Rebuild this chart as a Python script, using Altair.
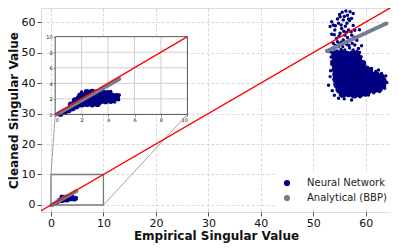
import altair as alt
import pandas as pd

# ---------------- values ----------------
X_TICKS = [0, 10, 20, 30, 40, 50, 60]
Y_TICKS = [0, 10, 20, 30, 40, 50, 60]
X_DOMAIN = [-1.9, 64.8]
Y_DOMAIN = [-2.3, 64.6]
INSET_TICKS = [0, 2, 4, 6, 8, 10]
INSET_GRID = [2, 4, 6, 8]
INSET_DOMAIN = [0, 10]
INSET_BOX_X = [0.8, 26.0]    # inset placement in main data units
INSET_BOX_Y = [29.7, 55.2]
ZOOM_BOX = [0, 10]
REF_LINE = [-5, 70]

SERIES = ["Neural Network", "Analytical (BBP)"]

# Neural network output, large singular values (dense core)
NN_HIGH_CORE = [
    (54.2, 49.3), (55.3, 49.5), (56.4, 49.2), (57.5, 49.4), (58.2, 49.0),
    (54.3, 47.8), (55.4, 47.6), (56.5, 47.9), (57.6, 47.5), (58.5, 47.7),
    (54.2, 46.1), (55.3, 46.3), (56.4, 45.9), (57.5, 46.2), (58.6, 45.9), (59.3, 46.2),
    (54.3, 44.5), (55.4, 44.2), (56.5, 44.6), (57.6, 44.3), (58.7, 44.5), (59.8, 44.2),
    (60.6, 43.9),
    (54.4, 42.8), (55.5, 43.0), (56.6, 42.7), (57.7, 43.0), (58.8, 42.7), (59.9, 42.9),
    (61.0, 42.6), (62.0, 42.4), (62.8, 41.9),
    (54.4, 41.2), (55.5, 40.9), (56.6, 41.3), (57.7, 41.0), (58.8, 41.2), (59.9, 40.9),
    (61.0, 41.2), (62.1, 40.9), (63.2, 40.6),
    (54.6, 39.5), (55.7, 39.7), (56.8, 39.4), (57.9, 39.6), (59.0, 39.4), (60.1, 39.6),
    (61.2, 39.3), (62.3, 39.5), (63.1, 39.3),
    (55.0, 37.9), (56.1, 37.7), (57.2, 38.0), (58.3, 37.8), (59.4, 38.0), (60.5, 37.7),
    (61.6, 38.0), (62.5, 38.3),
    (55.6, 36.5), (56.7, 36.7), (57.8, 36.3), (58.9, 36.6), (59.9, 36.9),
]
# Neural network output, large singular values (sparse points)
NN_HIGH_SPARSE = [
    (56.2, 63.6), (55.5, 63.2), (57.0, 63.4), (57.6, 62.8), (57.3, 61.2), (55.1, 61.7),
    (55.0, 62.5), (56.5, 62.2), (55.9, 61.8), (54.6, 61.0), (56.7, 61.0), (55.7, 60.7),
    (56.9, 60.5), (53.5, 60.1), (56.4, 59.6), (54.8, 59.6), (53.8, 59.0), (55.3, 59.0),
    (57.6, 58.9), (54.2, 58.8), (56.1, 58.6), (53.2, 58.5), (55.4, 57.9), (58.8, 57.5),
    (56.7, 57.4), (54.1, 57.4), (55.8, 57.0), (57.2, 56.8), (55.1, 56.3), (53.5, 56.0),
    (56.0, 55.7), (57.3, 55.7), (54.9, 55.4), (56.5, 54.9), (54.4, 54.6), (55.7, 54.1),
    (57.0, 54.1), (58.3, 54.0), (55.3, 53.4), (53.8, 53.0), (56.4, 52.6), (57.9, 52.5),
    (54.2, 52.3), (59.2, 52.2), (55.6, 52.0), (54.8, 51.9), (56.9, 51.5), (53.9, 51.2),
    (57.6, 50.8), (56.0, 50.8), (58.3, 50.3), (53.4, 50.2), (57.0, 49.6),
    (54.6, 53.5), (56.0, 53.2), (57.4, 53.0), (55.0, 52.8), (56.8, 52.3), (58.6, 51.3),
    (55.3, 51.0), (54.5, 50.5), (57.8, 55.0), (54.0, 55.8), (56.3, 56.6), (57.9, 57.3),
    (53.4, 48.5), (53.5, 46.2), (53.3, 44.0), (53.2, 42.1), (52.9, 39.3), (53.6, 37.5),
    (54.0, 36.0), (54.8, 35.0), (55.9, 34.8), (57.3, 34.4), (58.9, 35.5), (60.5, 36.1),
    (61.5, 36.8), (62.6, 37.2), (63.6, 38.3), (64.0, 40.2), (63.5, 40.8), (63.8, 42.3),
    (63.0, 43.1), (62.4, 44.3), (61.1, 44.8), (60.3, 45.2), (59.7, 46.8), (59.5, 47.0),
    (59.1, 48.6), (58.8, 50.0), (59.9, 44.9), (61.9, 43.8), (53.5, 47.0), (53.0, 50.5),
]
# Neural network output, small singular values (dense core)
NN_LOW_CORE = [
    (2.4, 2.85), (2.8, 2.9), (3.2, 2.85), (3.6, 2.8), (3.95, 2.75),
    (1.9, 2.4), (2.3, 2.5), (2.7, 2.45), (3.1, 2.45), (3.5, 2.4), (3.9, 2.45), (4.3, 2.4),
    (4.65, 2.35),
    (2.3, 2.05), (2.7, 2.0), (3.1, 2.05), (3.5, 2.0), (3.9, 2.05), (4.3, 2.0), (4.65, 2.1),
    (2.2, 1.65), (2.6, 1.65), (3.0, 1.6), (3.4, 1.65), (3.8, 1.7), (4.2, 1.75),
    (2.4, 1.35), (2.8, 1.3), (3.2, 1.35),
    (0.4, 0.1), (0.7, 0.35), (1.0, 0.55), (1.3, 0.8), (1.6, 1.05), (1.9, 1.3),
    (1.5, 1.8), (1.8, 2.1), (1.2, 1.25),
]
# Neural network output, small singular values (sparse points)
NN_LOW_SPARSE = [
    (4.85, 2.5), (4.8, 1.9), (2.0, 2.9), (3.4, 3.2), (4.2, 2.95), (1.1, 0.9),
    (0.3, 0.0), (4.5, 1.6), (2.1, 1.1),
]
# Analytical (BBP) prediction, two straight pieces
BBP_X = [0.1, 4.85, 52.6, 63.9]
BBP_Y = [0.0, 4.55, 50.5, 59.5]
BBP_PIECE = ["low", "low", "high", "high"]

# ---------------- layout ----------------
W, H = 350, 204
NAVY, GRAY, RED = "#000080", "#708090", "#ff0000"
FONT = "DejaVu Sans"


def px_x(v):
    return (v - X_DOMAIN[0]) / (X_DOMAIN[1] - X_DOMAIN[0]) * W


def px_y(v):
    return H - (v - Y_DOMAIN[0]) / (Y_DOMAIN[1] - Y_DOMAIN[0]) * H


inset_xrange = [px_x(INSET_BOX_X[0]), px_x(INSET_BOX_X[1])]
inset_yrange = [px_y(INSET_BOX_Y[0]), px_y(INSET_BOX_Y[1])]


def pts(pairs, series, group):
    d = pd.DataFrame(pairs, columns=["x", "y"])
    d["series"] = series
    d["group"] = group
    return d


nn_df = pd.concat([
    pts(NN_HIGH_CORE, SERIES[0], "high_core"),
    pts(NN_HIGH_SPARSE, SERIES[0], "high_sparse"),
    pts(NN_LOW_CORE, SERIES[0], "low_core"),
    pts(NN_LOW_SPARSE, SERIES[0], "low_sparse"),
], ignore_index=True)
bbp_df = pd.DataFrame({"x": BBP_X, "y": BBP_Y, "piece": BBP_PIECE, "series": SERIES[1]})
ref_df = pd.DataFrame({"x": REF_LINE, "y": REF_LINE})
inset_ref_df = pd.DataFrame({"x": INSET_DOMAIN, "y": INSET_DOMAIN})
zoom_df = pd.DataFrame({"x0": [ZOOM_BOX[0]], "x1": [ZOOM_BOX[1]],
                        "y0": [ZOOM_BOX[0]], "y1": [ZOOM_BOX[1]]})
conn_df = pd.DataFrame({
    "x0": [ZOOM_BOX[0], ZOOM_BOX[1]], "y0": [ZOOM_BOX[1], ZOOM_BOX[0]],
    "x1": [INSET_BOX_X[0], INSET_BOX_X[1]], "y1": [INSET_BOX_Y[0], INSET_BOX_Y[0]],
})
igrid_df = pd.DataFrame({"g": INSET_GRID, "lo": INSET_DOMAIN[0], "hi": INSET_DOMAIN[1]})
iframe_df = pd.DataFrame({"x0": [INSET_DOMAIN[0]], "x1": [INSET_DOMAIN[1]],
                          "y0": [INSET_DOMAIN[0]], "y1": [INSET_DOMAIN[1]]})

# ---------------- scales & axes ----------------
xs = alt.Scale(domain=X_DOMAIN, nice=False, zero=False)
ys = alt.Scale(domain=Y_DOMAIN, nice=False, zero=False)
xi = alt.Scale(domain=INSET_DOMAIN, range=inset_xrange, nice=False, zero=False)
yi = alt.Scale(domain=INSET_DOMAIN, range=inset_yrange, nice=False, zero=False)

common_axis = dict(grid=True, gridDash=[3, 2], gridColor="#cfcfcf", gridWidth=0.8,
                   domain=False, tickSize=4, tickColor="#222222", tickWidth=0.8,
                   labelFontSize=11, labelColor="#111111", titleFontSize=12,
                   titleFontWeight="bold", titleColor="#111111", labelFont=FONT,
                   titleFont=FONT)
ax_x = alt.Axis(values=X_TICKS, title="Empirical Singular Value", orient="bottom",
                labelPadding=1.5, titlePadding=2, **common_axis)
ax_y = alt.Axis(values=Y_TICKS, title="Cleaned Singular Value", orient="left",
                labelPadding=2, titleX=-21, titleY=H / 2, **common_axis)

inset_axis = dict(values=INSET_TICKS, grid=False, domain=False, tickSize=2,
                  tickColor="#333333", tickWidth=0.6, labelFontSize=5,
                  labelColor="#111111", labelFont=FONT, title="")
ax_xi = alt.Axis(orient="bottom", offset=-(H - inset_yrange[0]), labelPadding=1.5,
                 **inset_axis)
ax_yi = alt.Axis(orient="left", offset=-inset_xrange[0], labelPadding=1, **inset_axis)

color = alt.Color("series:N", scale=alt.Scale(domain=SERIES, range=[NAVY, GRAY]),
                  legend=alt.Legend(title=None, orient="none", legendX=236, legendY=165,
                                    symbolType="circle", symbolSize=38,
                                    symbolStrokeWidth=0, labelFontSize=10,
                                    labelFont=FONT, labelColor="#222222",
                                    labelOffset=15, rowPadding=5, padding=5,
                                    fillColor="white"))

MX = lambda f: alt.X(f"{f}:Q", scale=xs, axis=ax_x)
MY = lambda f: alt.Y(f"{f}:Q", scale=ys, axis=ax_y)
IX = lambda f: alt.X(f"{f}:Q", scale=xi, axis=ax_xi)
IY = lambda f: alt.Y(f"{f}:Q", scale=yi, axis=ax_yi)

# ---------------- main panel ----------------
zoom_rect = alt.Chart(zoom_df).mark_rect(fillOpacity=0, stroke="#7a7a7a", strokeWidth=1.3).encode(
    x=MX("x0"), x2="x1", y=MY("y0"), y2="y1")
connectors = alt.Chart(conn_df).mark_rule(color="#8a8a8a", strokeWidth=0.8).encode(
    x=MX("x0"), y=MY("y0"), x2="x1", y2="y1")
base_nn = alt.Chart(nn_df)
hi_core = base_nn.transform_filter(alt.datum.group == "high_core").mark_circle(
    size=70, opacity=1).encode(x=MX("x"), y=MY("y"), color=color)
hi_sparse = base_nn.transform_filter(alt.datum.group == "high_sparse").mark_circle(
    size=12, opacity=1).encode(x=MX("x"), y=MY("y"), color=color)
lo_pts = base_nn.transform_filter(
    (alt.datum.group == "low_core") | (alt.datum.group == "low_sparse")).mark_circle(
    size=10, opacity=1).encode(x=MX("x"), y=MY("y"), color=color)
bbp_line = alt.Chart(bbp_df).mark_line(color=GRAY, strokeWidth=4, strokeCap="round").encode(
    x=MX("x"), y=MY("y"), detail="piece:N")
bbp_pts = alt.Chart(bbp_df).mark_circle(size=14, opacity=1).encode(
    x=MX("x"), y=MY("y"), color=color)
red_line = alt.Chart(ref_df).mark_line(color=RED, strokeWidth=1.3, clip=True).encode(
    x=MX("x"), y=MY("y"))

main = alt.layer(zoom_rect, connectors, hi_core, hi_sparse, lo_pts, bbp_line, bbp_pts, red_line)

# ---------------- inset panel ----------------
ibg = alt.Chart(iframe_df).mark_rect(fill="white", strokeWidth=0).encode(
    x=IX("x0"), x2="x1", y=IY("y0"), y2="y1")
igrid_v = alt.Chart(igrid_df).mark_rule(color="#c8c8c8", strokeWidth=0.9).encode(
    x=IX("g"), y=IY("lo"), y2="hi")
igrid_h = alt.Chart(igrid_df).mark_rule(color="#c8c8c8", strokeWidth=0.9).encode(
    y=IY("g"), x=IX("lo"), x2="hi")
i_core = base_nn.transform_filter(alt.datum.group == "low_core").mark_circle(
    size=40, opacity=1, color=NAVY).encode(x=IX("x"), y=IY("y"))
i_sparse = base_nn.transform_filter(alt.datum.group == "low_sparse").mark_circle(
    size=12, opacity=1, color=NAVY).encode(x=IX("x"), y=IY("y"))
i_bbp = alt.Chart(bbp_df).transform_filter(alt.datum.piece == "low").mark_line(
    color=GRAY, strokeWidth=4, strokeCap="round").encode(x=IX("x"), y=IY("y"))
i_red = alt.Chart(inset_ref_df).mark_line(color=RED, strokeWidth=1.3).encode(
    x=IX("x"), y=IY("y"))
iframe = alt.Chart(iframe_df).mark_rect(fillOpacity=0, stroke="#555555", strokeWidth=1).encode(
    x=IX("x0"), x2="x1", y=IY("y0"), y2="y1")

inset = alt.layer(ibg, igrid_v, igrid_h, i_core, i_sparse, i_bbp, i_red, iframe)

chart = (
    alt.layer(main, inset)
    .resolve_scale(x="independent", y="independent")
    .properties(width=W, height=H,
                padding={"left": 33, "top": 0, "right": 0, "bottom": 37},
                autosize=alt.AutoSizeParams(type="none"))
    .configure_view(stroke="#444444", strokeWidth=1)
    .configure(font=FONT)
)

chart.save("out.html", embed_options={"renderer": "svg", "actions": False})
